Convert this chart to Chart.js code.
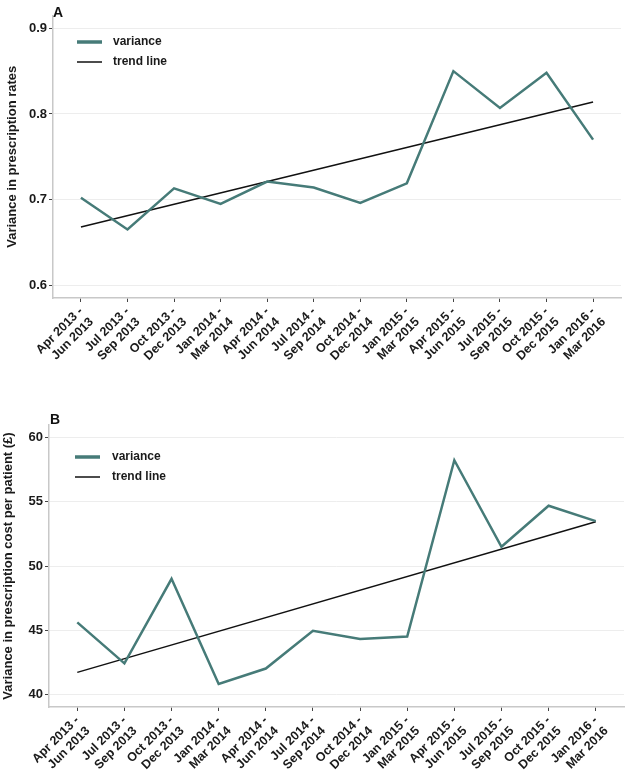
<!DOCTYPE html>
<html>
<head>
<meta charset="utf-8">
<script src="https://cdn.jsdelivr.net/npm/chart.js@4.4.0/dist/chart.umd.min.js"></script>
<style>
  body { margin: 0; background: #fff; width: 625px; height: 772px; position: relative; overflow: hidden; font-family: "Liberation Sans", Arial, sans-serif; }
  .panel { position: absolute; left: 0; width: 625px; }
  .tag { position: absolute; font-weight: bold; font-size: 14px; color: #111; }
</style>
</head>
<body>
<div class="panel" style="top:0;height:395px"><canvas id="chartA"></canvas></div>
<div class="panel" style="top:395px;height:377px"><canvas id="chartB"></canvas></div>
<div class="tag" style="left:53px;top:4px">A</div>
<div class="tag" style="left:50px;top:411px">B</div>
<script>
// quarters on the x axis
const quarters = [
  ['Apr 2013 -', 'Jun 2013'], ['Jul 2013 -', 'Sep 2013'], ['Oct 2013 -', 'Dec 2013'],
  ['Jan 2014 -', 'Mar 2014'], ['Apr 2014 -', 'Jun 2014'], ['Jul 2014 -', 'Sep 2014'],
  ['Oct 2014 -', 'Dec 2014'], ['Jan 2015 -', 'Mar 2015'], ['Apr 2015 -', 'Jun 2015'],
  ['Jul 2015 -', 'Sep 2015'], ['Oct 2015 -', 'Dec 2015'], ['Jan 2016 -', 'Mar 2016']
];

// panel A: variance in prescription rates
const rateVariance = [0.702, 0.665, 0.713, 0.695, 0.721, 0.714, 0.696, 0.719, 0.850, 0.807, 0.848, 0.770];
const rateTrend = [0.668, 0.814];   // first and last quarter
const rateTicks = [0.6, 0.7, 0.8, 0.9];

// panel B: variance in prescription cost per patient
const costVariance = [45.6, 42.4, 49.0, 40.8, 42.0, 44.95, 44.3, 44.5, 58.25, 51.5, 54.7, 53.5];
const costTrend = [41.7, 53.45];
const costTicks = [40, 45, 50, 55, 60];

const FONT = '"Liberation Sans", Arial, sans-serif';
const TEAL = '#467b78';

// legend drawn inside the plot, top left
const insideLegend = {
  id: 'insideLegend',
  afterDraw(chart, args, opts) {
    const ctx = chart.ctx, area = chart.chartArea;
    ctx.save();
    ctx.font = 'bold 12px ' + FONT;
    ctx.textBaseline = 'middle';
    ctx.fillStyle = '#1a1a1a';
    chart.data.datasets.forEach((ds, i) => {
      const y = area.top + opts.top + i * 20;
      ctx.beginPath();
      ctx.strokeStyle = ds.borderColor;
      ctx.lineWidth = ds.borderWidth + (i === 0 ? 1 : 0);
      ctx.moveTo(area.left + opts.left, y);
      ctx.lineTo(area.left + opts.left + 25, y);
      ctx.stroke();
      ctx.fillText(ds.label, area.left + opts.text, y);
    });
    ctx.restore();
  }
};

function buildChart(id, values, trend, yTicks, yMin, yMax, yTitle, layout) {
  const last = values.length - 1;
  return new Chart(document.getElementById(id), {
    type: 'line',
    data: {
      datasets: [
        {
          label: 'variance',
          data: values.map((v, i) => ({ x: i, y: v })),
          borderColor: TEAL,
          borderWidth: 2.5,
          pointRadius: 0,
          tension: 0
        },
        {
          label: 'trend line',
          data: [{ x: 0, y: trend[0] }, { x: last, y: trend[1] }],
          borderColor: '#111',
          borderWidth: 1.5,
          pointRadius: 0
        }
      ]
    },
    plugins: [insideLegend],
    options: {
      responsive: true,
      maintainAspectRatio: false,
      animation: false,
      layout: { padding: { top: layout.top, right: layout.right, left: 0, bottom: 0 } },
      plugins: {
        legend: { display: false },
        tooltip: { enabled: false },
        insideLegend: layout.legend
      },
      scales: {
        x: {
          type: 'linear',
          min: -0.6,
          max: last + 0.6,
          afterBuildTicks: (scale) => { scale.ticks = quarters.map((q, i) => ({ value: i })); },
          afterFit: (scale) => { scale.height = layout.xHeight; },
          ticks: {
            callback: (v) => quarters[v],
            maxRotation: 45,
            minRotation: 45,
            autoSkip: false,
            padding: 2,
            color: '#1a1a1a',
            font: { family: FONT, size: 12.5, weight: 'bold' }
          },
          grid: { drawOnChartArea: false, tickLength: 4, tickColor: '#444' },
          border: { color: '#c8c8c8', width: 1.5 }
        },
        y: {
          min: yMin,
          max: yMax,
          afterBuildTicks: (scale) => { scale.ticks = yTicks.map(v => ({ value: v })); },
          afterFit: (scale) => { scale.width = layout.yWidth; },
          ticks: {
            padding: 2,
            color: '#1a1a1a',
            font: { family: FONT, size: 13, weight: 'bold' }
          },
          grid: { color: '#ededed', lineWidth: 1, tickLength: 4, tickColor: '#444' },
          border: { color: '#c8c8c8', width: 1.5 },
          title: {
            display: true,
            text: yTitle,
            color: '#1a1a1a',
            padding: { top: layout.titlePad, bottom: 2 },
            font: { family: FONT, size: 13, weight: 'bold' }
          }
        }
      }
    }
  });
}

buildChart('chartA', rateVariance, rateTrend, rateTicks, 0.585, 0.915,
  'Variance in prescription rates',
  { top: 15.5, right: 4, xHeight: 97, yWidth: 53, titlePad: 5, legend: { top: 26.5, left: 24, text: 60 } });

buildChart('chartB', costVariance, costTrend, costTicks, 39, 61,
  'Variance in prescription cost per patient (£)',
  { top: 30, right: 1, xHeight: 65, yWidth: 49, titlePad: 1, legend: { top: 32, left: 26, text: 63 } });
</script>
</body>
</html>
